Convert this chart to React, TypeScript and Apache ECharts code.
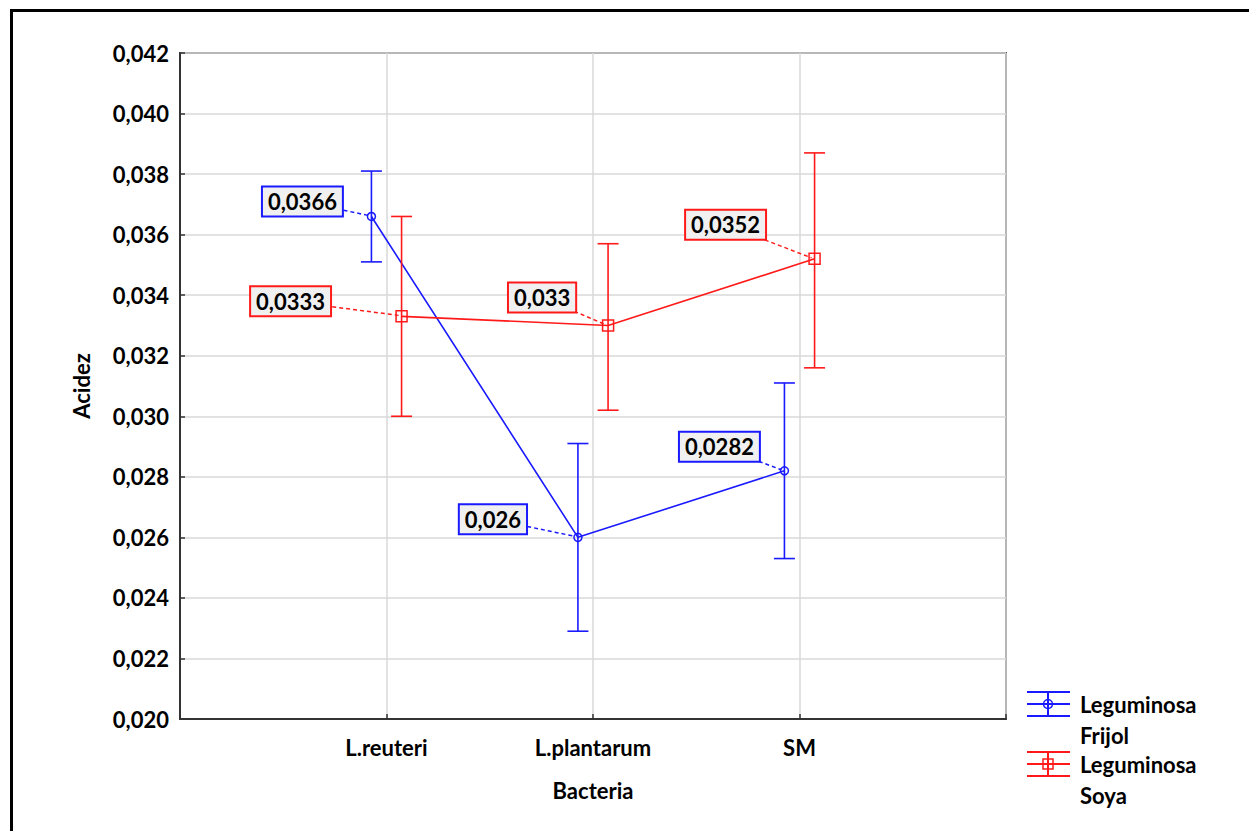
import React, { useEffect, useRef } from "react";
import * as echarts from "echarts";

const categories = ["L.reuteri", "L.plantarum", "SM"];
const frijolMean = [0.0366, 0.026, 0.0282];
const frijolLow = [0.0351, 0.0229, 0.0253];
const frijolHigh = [0.0381, 0.0291, 0.0311];
const frijolLabels = ["0,0366", "0,026", "0,0282"];
const soyaMean = [0.0333, 0.033, 0.0352];
const soyaLow = [0.0300, 0.0302, 0.0316];
const soyaHigh = [0.0366, 0.0357, 0.0387];
const soyaLabels = ["0,0333", "0,033", "0,0352"];
const seriesNames = ["Leguminosa\nFrijol", "Leguminosa\nSoya"];

// layout (pixel offsets of the value boxes relative to their points)
const frijolLabelOffsets = [[-69, -15], [-85, -18], [-65, -24]];
const soyaLabelOffsets = [[-111, -15], [-66, -28], [-89, -34]];
const DODGE = 0.073;
const BLUE = "#1a1aff";
const RED = "#ff1a1a";
const FONT = "Lato";
const FS = 22;

function makeCustom(name, color, shape, mean, low, high, labels, offsets, dodge) {
  const data = mean.map((m, i) => [i + 1 + dodge, m, low[i], high[i]]);
  return {
    type: "custom",
    name,
    z: 5,
    data,
    encode: { x: 0, y: [1, 2, 3] },
    renderItem: (params, api) => {
      const x = api.value(0);
      const p = api.coord([x, api.value(1)]);
      const pl = api.coord([x, api.value(2)]);
      const ph = api.coord([x, api.value(3)]);
      const i = params.dataIndex;
      const off = offsets[i];
      const cx = p[0] + off[0];
      const cy = p[1] + off[1];
      const ls = { stroke: color, lineWidth: 1.6 };
      const marker =
        shape === "circle"
          ? { type: "circle", shape: { cx: p[0], cy: p[1], r: 4 }, style: { fill: "none", stroke: color, lineWidth: 1.5 } }
          : { type: "rect", shape: { x: p[0] - 5.5, y: p[1] - 5.5, width: 11, height: 11 }, style: { fill: "none", stroke: color, lineWidth: 1.5 } };
      return {
        type: "group",
        children: [
          { type: "line", shape: { x1: pl[0], y1: pl[1], x2: ph[0], y2: ph[1] }, style: ls },
          { type: "line", shape: { x1: ph[0] - 10.5, y1: ph[1], x2: ph[0] + 10.5, y2: ph[1] }, style: ls },
          { type: "line", shape: { x1: pl[0] - 10.5, y1: pl[1], x2: pl[0] + 10.5, y2: pl[1] }, style: ls },
          marker,
          {
            type: "line",
            shape: { x1: cx, y1: cy, x2: p[0] - 3, y2: p[1] - 1 },
            style: { stroke: color, lineWidth: 1.5, lineDash: [4, 3] },
          },
          {
            type: "text",
            x: cx,
            y: cy,
            style: {
              text: labels[i],
              align: "center",
              verticalAlign: "middle",
              font: `bold ${FS}px ${FONT}`,
              fill: "#000",
              backgroundColor: "#f0f0f0",
              borderColor: color,
              borderWidth: 2,
              padding: [3, 5, 3, 5],
            },
          },
        ],
      };
    },
  };
}

export default function App() {
  const ref = useRef(null);
  useEffect(() => {
    const chart = echarts.init(ref.current, null, { renderer: "svg" });
    const textStyle = { fontFamily: FONT, fontWeight: "bold", fontSize: FS, color: "#000" };
    const legendItem = (y, color, shape, name) => {
      const [l1, l2] = name.split("\n");
      const ls = { stroke: color, lineWidth: 2 };
      return [
        { type: "line", shape: { x1: 1027, y1: y - 12, x2: 1070, y2: y - 12 }, style: ls },
        { type: "line", shape: { x1: 1027, y1: y, x2: 1070, y2: y }, style: ls },
        { type: "line", shape: { x1: 1027, y1: y + 12, x2: 1070, y2: y + 12 }, style: ls },
        { type: "line", shape: { x1: 1048, y1: y - 12, x2: 1048, y2: y + 12 }, style: ls },
        shape === "circle"
          ? { type: "circle", shape: { cx: 1048, cy: y, r: 4.5 }, style: { fill: "none", stroke: color, lineWidth: 1.5 } }
          : { type: "rect", shape: { x: 1043, y: y - 5, width: 10, height: 10 }, style: { fill: "none", stroke: color, lineWidth: 1.5 } },
        { type: "text", x: 1080, y: y, style: { text: l1, font: `bold ${FS}px ${FONT}`, fill: "#000", verticalAlign: "middle" } },
        { type: "text", x: 1080, y: y + 31, style: { text: l2, font: `bold ${FS}px ${FONT}`, fill: "#000", verticalAlign: "middle" } },
      ];
    };
    chart.setOption({
      animation: false,
      backgroundColor: "#fff",
      grid: {
        left: 180,
        top: 53,
        right: 243,
        bottom: 112,
        show: true,
        borderColor: "#555",
        borderWidth: 2,
      },
      xAxis: {
        type: "value",
        min: 0,
        max: 4,
        interval: 1,
        name: "Bacteria",
        nameLocation: "middle",
        nameGap: 60,
        nameTextStyle: textStyle,
        axisLine: { lineStyle: { color: "#333", width: 2 } },
        axisTick: { inside: true, length: 5, lineStyle: { color: "#333", width: 1.5 } },
        axisLabel: {
          ...textStyle,
          margin: 17,
          formatter: (v) => categories[Math.round(v) - 1] ?? "",
        },
        splitLine: { show: true, lineStyle: { color: "#d8d8d8", width: 1.5 } },
      },
      yAxis: {
        type: "value",
        min: 0.02,
        max: 0.042,
        interval: 0.002,
        name: "Acidez",
        nameLocation: "middle",
        nameRotate: 90,
        nameGap: 88,
        nameTextStyle: textStyle,
        axisLine: { show: true, lineStyle: { color: "#333", width: 2 } },
        axisTick: { show: true, inside: true, length: 5, lineStyle: { color: "#333", width: 1.5 } },
        axisLabel: {
          ...textStyle,
          margin: 11,
          formatter: (v) => v.toFixed(3).replace(".", ","),
        },
        splitLine: { show: true, lineStyle: { color: "#d8d8d8", width: 1.5 } },
      },
      graphic: [
        { type: "line", shape: { x1: 10, y1: 10.5, x2: 1249, y2: 10.5 }, style: { stroke: "#000", lineWidth: 3 } },
        { type: "line", shape: { x1: 11.5, y1: 9, x2: 11.5, y2: 831 }, style: { stroke: "#000", lineWidth: 3 } },
        ...legendItem(704, BLUE, "circle", seriesNames[0]),
        ...legendItem(764, RED, "square", seriesNames[1]),
      ],
      series: [
        {
          type: "line",
          name: seriesNames[0],
          data: frijolMean.map((m, i) => [i + 1 - DODGE, m]),
          symbol: "none",
          lineStyle: { color: BLUE, width: 1.6 },
          z: 3,
        },
        {
          type: "line",
          name: seriesNames[1],
          data: soyaMean.map((m, i) => [i + 1 + DODGE, m]),
          symbol: "none",
          lineStyle: { color: RED, width: 1.6 },
          z: 3,
        },
        makeCustom(seriesNames[0], BLUE, "circle", frijolMean, frijolLow, frijolHigh, frijolLabels, frijolLabelOffsets, -DODGE),
        makeCustom(seriesNames[1], RED, "square", soyaMean, soyaLow, soyaHigh, soyaLabels, soyaLabelOffsets, DODGE),
      ],
    });
    return () => chart.dispose();
  }, []);
  return (
    <div
      ref={ref}
      style={{ position: "fixed", left: 0, top: 0, width: 1249, height: 831, background: "#fff" }}
    />
  );
}
